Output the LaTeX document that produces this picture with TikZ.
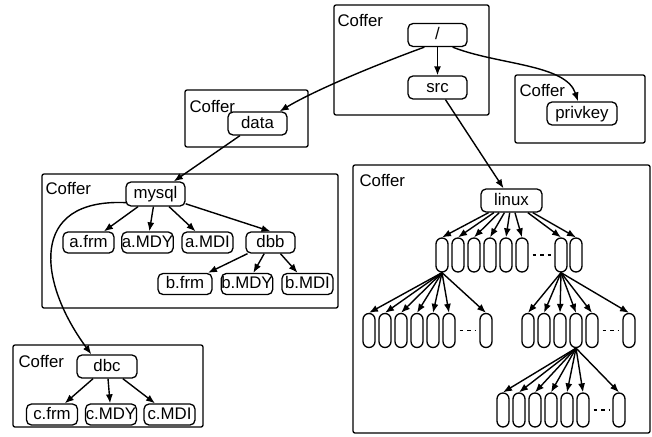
\documentclass[tikz,border=0pt]{standalone}
\usepackage{fontspec}
\setmainfont{Liberation Sans}
\usetikzlibrary{positioning,arrows.meta}
\tikzset{
  coffer/.style={draw, line width=1.3pt, rounded corners=2pt, inner sep=0pt},
  coffer label/.style={anchor=base west, inner sep=0pt},
  dir node/.style={draw, fill=white, line width=1.3pt, rounded corners=5pt, inner sep=0pt, text height=12.5pt, text depth=3pt, minimum width=59pt, minimum height=23pt},
  file node/.style={dir node, minimum width=51pt, minimum height=21pt},
  leaf/.style={draw, fill=white, line width=1.3pt, rounded corners=6pt, inner sep=0pt, minimum width=12pt, minimum height=34pt},
  link/.style={-{Latex[length=9pt,width=7pt]}, line width=1.4pt},
  gap line/.style={line width=1.2pt, dash pattern=on 3.5pt off 4pt, shorten <=4pt, shorten >=3pt},
}

\begin{document}
\begin{tikzpicture}[x=1pt, y=-1pt, every node/.style={font=\fontsize{16.8}{19}\selectfont}]
\useasboundingbox (0,0) rectangle (652,436);
% the coffers
\node [coffer, minimum width=155pt, minimum height=110pt] (cfRoot) at (411.5,60) {};
\node [coffer, minimum width=130pt, minimum height=68pt] (cfPriv) at (580,109) {};
\node [coffer, minimum width=123pt, minimum height=57pt] (cfData) at (246.5,118.5) {};
\node [coffer, minimum width=296pt, minimum height=134pt] (cfMysql) at (190,241) {};
\node [coffer, minimum width=190pt, minimum height=82pt] (cfDbc) at (108,386) {};
\node [coffer, minimum width=297pt, minimum height=268pt] (cfLinux) at (501.5,299) {};
\node [coffer label] (lbRoot) at ([xshift=4pt,yshift=-22pt]cfRoot.north west) {Coffer};
\node [coffer label] (lbPriv) at ([xshift=5pt,yshift=-22pt]cfPriv.north west) {Coffer};
\node [coffer label] (lbData) at ([xshift=5pt,yshift=-23pt]cfData.north west) {Coffer};
\node [coffer label] (lbMysql) at ([xshift=4pt,yshift=-21pt]cfMysql.north west) {Coffer};
\node [coffer label] (lbDbc) at ([xshift=6pt,yshift=-23pt]cfDbc.north west) {Coffer};
\node [coffer label] (lbLinux) at ([xshift=7pt,yshift=-22pt]cfLinux.north west) {Coffer};

% the directories and files
\node [dir node] (nRoot) at (437.5,35) {/};
\node [dir node] (nSrc) at (437.5,87.5) {src};
\node [dir node, minimum width=70pt] (nPriv) at (582,113.5) {privkey};
\node [dir node] (nData) at (257.5,123.5) {data};
\node [dir node, minimum height=24pt] (nMysql) at (155.5,194) {mysql};
\node [file node] (nAfrm) at (88.5,242.5) {a.frm};
\node [file node] (nAmdy) at (147.5,242.5) {a.MDY};
\node [file node] (nAmdi) at (207.5,242.5) {a.MDI};
\node [file node, minimum width=49pt] (nDbb) at (270.5,242.5) {dbb};
\node [file node, minimum width=54pt] (nBfrm) at (185,284) {b.frm};
\node [file node] (nBmdy) at (247,284) {b.MDY};
\node [file node] (nBmdi) at (307.5,284) {b.MDI};
\node [dir node, minimum width=60pt] (nDbc) at (107,366.5) {dbc};
\node [file node] (nCfrm) at (52,414.5) {c.frm};
\node [file node] (nCmdy) at (111,414.5) {c.MDY};
\node [file node] (nCmdi) at (169.5,414.5) {c.MDI};
\node [dir node, minimum width=61pt] (nLinux) at (511.5,200.5) {linux};

% the linux tree
\foreach \i/\x in {1/442,2/458,3/474,4/490,5/506,6/522,7/561,8/576}
  \node [leaf] (la\i) at (\x,255) {};
\foreach \i/\x in {1/369,2/385,3/401,4/417,5/433,6/449,7/486}
  \node [leaf] (lb\i) at (\x,330.5) {};
\foreach \i/\x in {1/528,2/544,3/560,4/576,5/592,6/629}
  \node [leaf] (lc\i) at (\x,330.5) {};
\foreach \i/\x in {1/503,2/519,3/535,4/551,5/567,6/583,7/619}
  \node [leaf] (ld\i) at (\x,410) {};
\draw [gap line] (la6.east) -- (la7.west);
\draw [gap line] (lb6.east) -- (lb7.west);
\draw [gap line] (lc5.east) -- (lc6.west);
\draw [gap line] (ld6.east) -- (ld7.west);

%drawings of links
\draw [link] ([xshift=17pt]nRoot.south west) .. controls (378,64) and (315,90) .. ([xshift=-8pt]nData.north east);
\draw [link] ([xshift=-15pt]nRoot.south east) .. controls (498,65) and (566,64) .. ([xshift=-4pt]nPriv.north);
\draw [link] (nRoot) -- (nSrc);
\draw [link] (nSrc) -- (nLinux);
\draw [link] (nData) -- (nMysql);

\draw [link] (nMysql) -- (nAfrm);
\draw [link] (nMysql) -- (nAmdy);
\draw [link] (nMysql) -- (nAmdi);
\draw [link] (nMysql) -- (nDbb.north);
\draw [link] (nDbb) -- (nBfrm);
\draw [link] (nDbb) -- (nBmdy);
\draw [link] (nDbb) -- (nBmdi);

\draw [link] ([xshift=1pt,yshift=4pt]nMysql.south west) .. controls (28,198) and (38,282) .. ([xshift=15pt]nDbc.north west);
\draw [link] (nDbc) -- (nCfrm);
\draw [link] (nDbc) -- (nCmdy);
\draw [link] (nDbc) -- (nCmdi);

\foreach \i in {1,...,8}
  \draw [link] (nLinux) -- (la\i.north);
\foreach \i in {1,...,7}
  \draw [link] (la1.south) -- (lb\i.north);
\foreach \i in {1,...,6}
  \draw [link] (la7.south) -- (lc\i.north);
\foreach \i in {1,...,7}
  \draw [link] (lc4.south) -- (ld\i.north);
\end{tikzpicture}
\end{document}
